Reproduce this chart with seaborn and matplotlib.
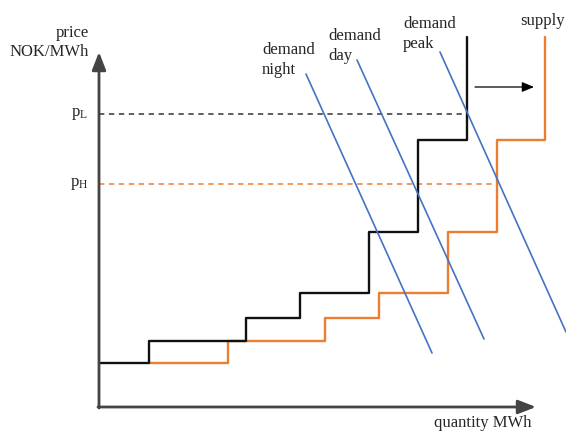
import matplotlib
matplotlib.use("Agg")
import matplotlib.pyplot as plt
import seaborn as sns
import pandas as pd

# ---- data (quantity / price, schematic units) ----
supply_black_q = [0, 50, 147, 201, 270, 319, 368]
supply_black_p = [44, 66, 89, 114, 175, 267, 370]
supply_orange_q = [50, 129, 226, 280, 349, 398, 446]
supply_orange_p = [44, 66, 89, 114, 175, 267, 370]
demand_names = ["night", "day", "peak"]
demand_q = [[207, 333], [258, 385], [341, 467]]
demand_p = [[333, 54], [347, 68], [355, 75]]
price_levels = {"L": 293, "H": 223}
price_level_end_q = {"L": 368, "H": 398}

sns.set_theme(style="white")
plt.rcParams["font.family"] = ["Liberation Serif", "DejaVu Serif"]

fig = plt.figure(figsize=(5.66, 4.34), dpi=100)
ax = fig.add_axes([0, 0, 1, 1])
ax.set_xlim(-99, 467)
ax.set_ylim(-27, 407)
ax.axis("off")

BLUE = "#4472C4"
ORANGE = "#ED7D31"

# dashed price levels
ax.plot([0, price_level_end_q["L"]], [price_levels["L"]] * 2, ls=(0, (3.5, 3)), color="#333333", lw=1.1)
ax.plot([0, price_level_end_q["H"]], [price_levels["H"]] * 2, ls=(0, (3.5, 3)), color=ORANGE, lw=1.1)

# supply step curves
df_b = pd.DataFrame({"q": supply_black_q, "p": supply_black_p})
df_o = pd.DataFrame({"q": supply_orange_q, "p": supply_orange_p})
sns.lineplot(data=df_o, x="q", y="p", ax=ax, color=ORANGE, lw=1.7, drawstyle="steps-post",
             estimator=None, sort=False)
sns.lineplot(data=df_b, x="q", y="p", ax=ax, color="#111111", lw=1.7, drawstyle="steps-post",
             estimator=None, sort=False)

# demand lines
for name, q, p in zip(demand_names, demand_q, demand_p):
    d = pd.DataFrame({"q": q, "p": p})
    sns.lineplot(data=d, x="q", y="p", ax=ax, color=BLUE, lw=1.2, estimator=None, sort=False)

ax.set_xlabel("")
ax.set_ylabel("")
ax.axis("off")

# axes with arrows
axcol = "#444444"
ax.annotate("", xy=(0, 355), xytext=(0, -1),
            arrowprops=dict(arrowstyle="-|>,head_length=0.9,head_width=0.35", color=axcol, lw=2.0,
                            shrinkA=0, shrinkB=0))
ax.annotate("", xy=(437, 0), xytext=(-1, 0),
            arrowprops=dict(arrowstyle="-|>,head_length=0.9,head_width=0.35", color=axcol, lw=2.0,
                            shrinkA=0, shrinkB=0))
# shift arrow
ax.annotate("", xy=(435, 320), xytext=(376, 320),
            arrowprops=dict(arrowstyle="-|>,head_length=0.6,head_width=0.25", color="black", lw=0.9,
                            shrinkA=0, shrinkB=0))

fs = 12
ax.text(-10, 374, "price", ha="right", va="center", fontsize=fs)
ax.text(-10, 355, "NOK/MWh", ha="right", va="center", fontsize=fs)
ax.text(-11, price_levels["L"], r"$\mathregular{p_L}$", ha="right", va="center", fontsize=fs)
ax.text(-11, price_levels["H"], r"$\mathregular{p_H}$", ha="right", va="center", fontsize=fs)
labels = [(163, 353, 333, "night"), (229, 367, 347, "day"), (304, 379, 359, "peak")]
for x0, y1, y2, name in labels:
    ax.text(x0, y1, "demand", ha="left", va="baseline", fontsize=fs)
    ax.text(x0, y2, name, ha="left", va="baseline", fontsize=fs)
ax.text(466, 386, "supply", ha="right", va="center", fontsize=fs)
ax.text(432, -24, "quantity MWh", ha="right", va="bottom", fontsize=fs)

fig.savefig("out.png", dpi=100, facecolor="white")
